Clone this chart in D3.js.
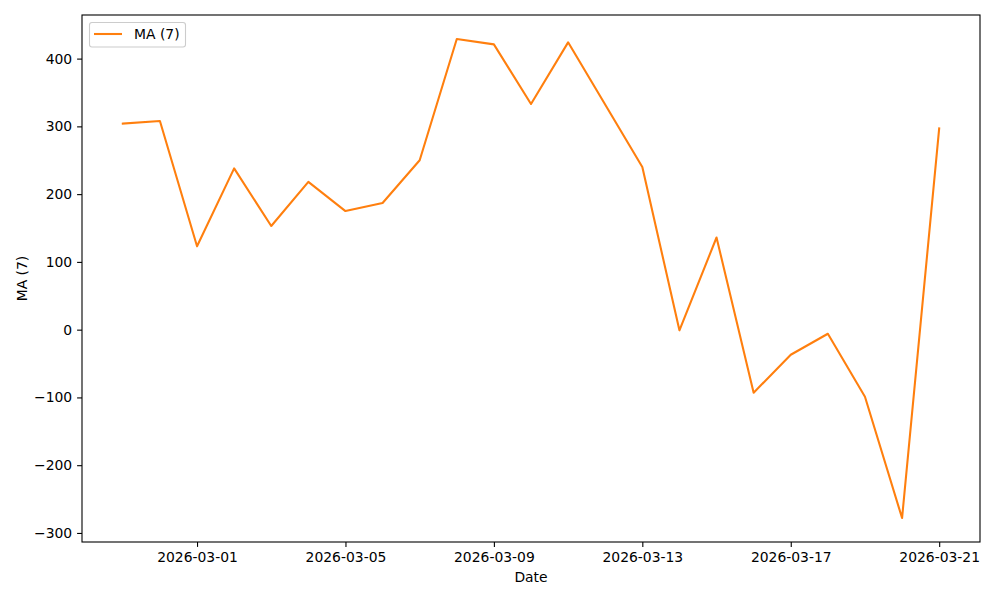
<!DOCTYPE html>
<html><head><meta charset="utf-8">
<script src="https://cdn.jsdelivr.net/npm/d3@7"></script>
<style>body{margin:0;background:#fff}svg{display:block}text{font-family:"DejaVu Sans",sans-serif}</style>
</head><body><svg id="c" width="1000" height="600"></svg>
<script>
const dates = ["2026-02-27","2026-02-28","2026-03-01","2026-03-02","2026-03-03","2026-03-04","2026-03-05","2026-03-06","2026-03-07","2026-03-08","2026-03-09","2026-03-10","2026-03-11","2026-03-13","2026-03-14","2026-03-15","2026-03-16","2026-03-17","2026-03-18","2026-03-19","2026-03-20","2026-03-21"];
const maValues = [304, 308, 123, 238, 153, 218, 175, 187, 250, 429, 421, 333, 424, 240, -1, 136, -93, -37, -6, -99, -278, 297];
const xTickLabels = ["2026-03-01","2026-03-05","2026-03-09","2026-03-13","2026-03-17","2026-03-21"];
const yTicks = [-300,-200,-100,0,100,200,300,400];
const seriesName = "MA (7)";

const svg = d3.select("#c");
const L = 82, R = 980, T = 15, B = 542;
const parse = d3.utcParse("%Y-%m-%d");
const data = dates.map((d,i)=>({x:parse(d), y:maValues[i]}));
const xMin = d3.min(data,d=>d.x), xMax = d3.max(data,d=>d.x);
const xPad = (xMax - xMin)*0.05;
const x = d3.scaleUtc().domain([new Date(+xMin - xPad), new Date(+xMax + xPad)]).range([L,R]);
const yMin = d3.min(maValues), yMax = d3.max(maValues), yPad=(yMax-yMin)*0.05;
const y = d3.scaleLinear().domain([yMin-yPad, yMax+yPad]).range([B,T]);

const fs = 13.9;
const xAxis = d3.axisBottom(x).tickValues(xTickLabels.map(parse)).tickFormat(d3.utcFormat("%Y-%m-%d")).tickSizeOuter(0).tickSize(4.9).tickPadding(4.9);
const gx = svg.append("g").attr("transform",`translate(0,${B})`).call(xAxis);
const yAxis = d3.axisLeft(y).tickValues(yTicks).tickFormat(d=>d<0?"\u2212"+Math.abs(d):d).tickSizeOuter(0).tickSize(4.9).tickPadding(4.9);
const gy = svg.append("g").attr("transform",`translate(${L},0)`).call(yAxis);
[gx,gy].forEach(g=>{
  g.select(".domain").remove();
  g.selectAll(".tick line").attr("stroke","#000").attr("stroke-width",1.1);
  g.selectAll(".tick text").attr("fill","#000").style("font-size",fs+"px").style("font-family","DejaVu Sans");
});

const line = d3.line().x(d=>x(d.x)).y(d=>y(d.y));
svg.append("path").datum(data).attr("d",line).attr("fill","none").attr("stroke","#ff7f0e").attr("stroke-width",2.08).attr("stroke-linejoin","round").attr("stroke-linecap","square");

svg.append("rect").attr("x",L).attr("y",T).attr("width",R-L).attr("height",B-T).attr("fill","none").attr("stroke","#000").attr("stroke-width",1.1);

svg.append("text").attr("x",(L+R)/2).attr("y",582).attr("text-anchor","middle").style("font-size",fs+"px").text("Date");
svg.append("text").attr("transform",`translate(27,${(T+B)/2}) rotate(-90)`).attr("text-anchor","middle").style("font-size",fs+"px").text(seriesName);

const lg = svg.append("g");
lg.append("rect").attr("x",89.5).attr("y",22.5).attr("width",96).attr("height",24.5).attr("rx",2.5).attr("fill","#fff").attr("fill-opacity",0.8).attr("stroke","#ccc").attr("stroke-width",1.1);
lg.append("line").attr("x1",94).attr("x2",122).attr("y1",34).attr("y2",34).attr("stroke","#ff7f0e").attr("stroke-width",2.08);
lg.append("text").attr("x",134).attr("y",39).style("font-size",fs+"px").text(seriesName);
</script></body></html>
